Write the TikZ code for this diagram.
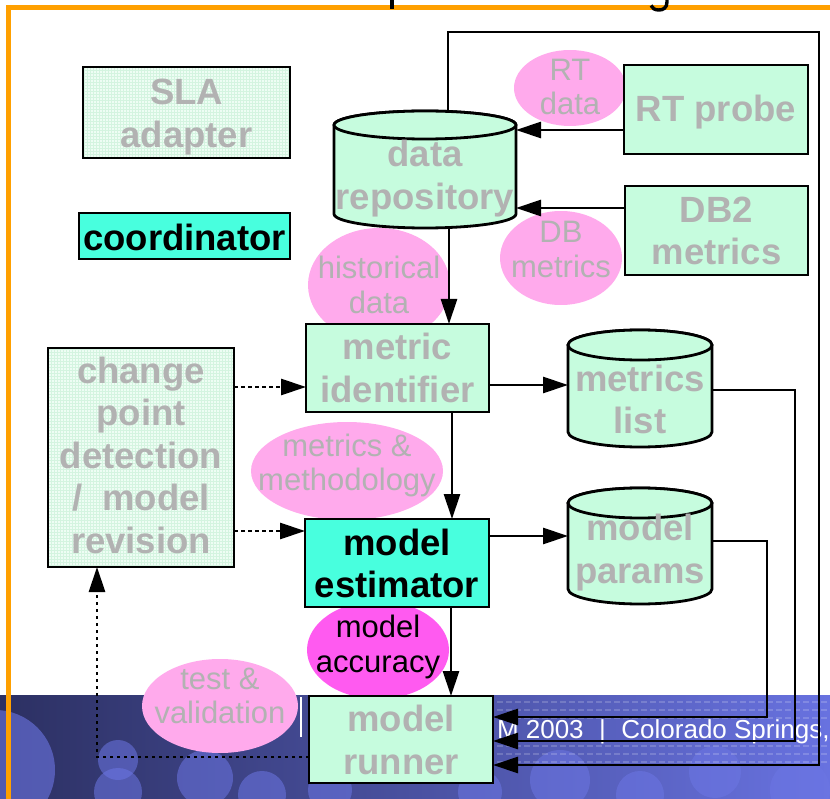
\documentclass[tikz,border=0pt]{standalone}
\usepackage{fontspec}
\setmainfont{Liberation Sans}
\usetikzlibrary{arrows.meta,shapes.geometric,patterns}

\definecolor{mint}{RGB}{198,252,222}
\definecolor{palemint}{RGB}{238,253,244}
\definecolor{gridmint}{RGB}{212,244,224}
\definecolor{aqua}{RGB}{72,255,222}
\definecolor{pinkbub}{RGB}{255,170,236}
\definecolor{magbub}{RGB}{255,90,240}
\definecolor{txtgray}{RGB}{178,178,178}
\definecolor{frameorange}{RGB}{255,160,0}
\definecolor{navy}{RGB}{44,48,98}
\definecolor{bandblue}{RGB}{104,114,224}
\definecolor{blobblue}{RGB}{108,118,228}

% cylinder drawn over an invisible rectangle node: #1 node, #2 x radius, #3 y radius
\newcommand\drawcyl[3]{%
  \filldraw[cylline] ([yshift=-#3]#1.north west) -- ([yshift=#3]#1.south west)
    arc[start angle=180,end angle=360,x radius=#2,y radius=#3]
    -- ([yshift=-#3]#1.north east)
    arc[start angle=0,end angle=180,x radius=#2,y radius=#3] -- cycle;
  \filldraw[cylline] ([yshift=-#3]#1.north) ellipse[x radius=#2,y radius=#3];
}

\begin{document}
\begin{tikzpicture}[x=1pt,y=-1pt,
  every node/.style={inner sep=0pt,outer sep=0pt},
  box/.style={rectangle,draw=black,line width=2.8pt,fill=mint},
  hotbox/.style={box,fill=aqua},
  gridbox/.style={rectangle,draw=black,line width=2.8pt,
    preaction={fill=palemint},pattern=grid,pattern color=gridmint},
  cylnode/.style={rectangle},
  cylline/.style={draw=black,line width=2.8pt,fill=mint},
  bubble/.style={ellipse,fill=pinkbub},
  hotbubble/.style={ellipse,fill=magbub},
  boxtext/.style={font=\fontsize{36.5}{42.5}\selectfont\bfseries,text=txtgray,align=center},
  hottext/.style={boxtext,text=black},
  bubtext/.style={font=\fontsize{31}{34.5}\selectfont,text=txtgray,align=center},
  arr/.style={-{Triangle[length=25pt,width=16pt]},line width=2.8pt},
  dotarr/.style={arr,dash pattern=on 3.5pt off 3.5pt},
]
\useasboundingbox (0,0) rectangle (830,799);
\clip (0,0) rectangle (830,799);

% ---- footer band ----
\fill[left color=navy,right color=bandblue] (0,695) rectangle (830,799);
\fill[blobblue,opacity=0.6] (-5,770) circle[radius=60pt];
\begin{scope}[blobblue,opacity=0.55]
  \fill (118,760) circle[radius=20pt];
  \fill (118,792) circle[radius=24pt];
  \fill (205,778) circle[radius=28pt];
  \fill (262,795) circle[radius=24pt];
  \fill (330,790) circle[radius=22pt];
  \fill (480,792) circle[radius=22pt];
  \fill (560,780) circle[radius=30pt];
  \fill (640,795) circle[radius=24pt];
  \fill (715,772) circle[radius=26pt];
  \fill (800,790) circle[radius=30pt];
\end{scope}
\foreach \yy in {702,710,718,746,754,762}
  \draw[white,opacity=0.18,line width=1.2pt,dash pattern=on 6pt off 3pt] (470,\yy) -- (830,\yy);
\draw[white,line width=2pt] (301,697) -- (301,737);
\node[anchor=base west,font=\fontsize{26}{30}\selectfont,text=white] (foot) at (497,738)
  {M 2003\hspace{15.5pt}|\hspace{15.5pt}Colorado Springs,};

% ---- slide frame with the tails of the heading above it ----
\draw[frameorange,line width=5pt] (6,7.5) -- (830,7.5);
\draw[frameorange,line width=5pt] (8.5,5) -- (8.5,799);
\draw[line width=3.6pt] (392,-2) -- (392,9.5);
\draw[line width=3.4pt] (667,-2) -- (667,2) .. controls (667,8) and (663,10) .. (659,10)
  .. controls (655,10) and (652,8.5) .. (651,5.5);

% ---- bubbles ----
\node[bubble,minimum width=112pt,minimum height=76pt] (rtdata) at (570,88) {};
\node[bubtext] (rtdata-t) at (570,87.2) {RT\\data};
\node[bubble,minimum width=122pt,minimum height=94pt] (dbmet) at (561,258) {};
\node[bubtext] (dbmet-t) at (561,249.6) {DB\\metrics};
\node[bubble,minimum width=142pt,minimum height=114pt] (hist) at (379,285) {};
\node[bubtext] (hist-t) at (379,284.9) {historical\\data};
\node[bubble,minimum width=192pt,minimum height=98pt] (methb) at (347,471) {};
\node[bubtext] (methb-t) at (347,465.3) {metrics \&\\methodology};
\node[hotbubble,minimum width=142pt,minimum height=98pt] (accb) at (378,650) {};
\node[bubtext,text=black] (accb-t) at (378,647) {model\\accuracy};
\node[bubble,minimum width=156pt,minimum height=94pt] (testb) at (220,706) {};
\node[bubtext] (testb-t) at (220,695.7) {test \&\\validation};

% ---- boxes ----
\node[gridbox,minimum width=207pt,minimum height=91pt] (sla) at (186.5,112.5) {};
\node[boxtext] (sla-t) at (186.5,116.8) {SLA\\adapter};
\node[hotbox,minimum width=211pt,minimum height=46pt] (coord) at (184.5,236) {};
\node[hottext] (coord-t) at (184.5,237) {coordinator};
\node[box,minimum width=184pt,minimum height=89pt] (rtprobe) at (716,109.5) {};
\node[boxtext] (rtprobe-t) at (716,111.8) {RT probe};
\node[box,minimum width=183pt,minimum height=89pt] (db2) at (716.5,230.5) {};
\node[boxtext] (db2-t) at (716.5,230.7) {DB2\\metrics};
\node[box,minimum width=183pt,minimum height=88pt] (metid) at (397.5,368) {};
\node[boxtext] (metid-t) at (397.5,368) {metric\\identifier};
\node[hotbox,minimum width=184pt,minimum height=88pt] (modest) at (397,563) {};
\node[hottext] (modest-t) at (397,563.3) {model\\estimator};
\node[box,minimum width=184pt,minimum height=87pt] (runner) at (401,739.5) {};
\node[boxtext] (runner-t) at (401,740) {model\\runner};
\node[gridbox,minimum width=186pt,minimum height=219pt] (cpd) at (141,457.5) {};
\node[boxtext] (cpd-t) at (141,455.3) {change\\point\\detection\\/~~model\\revision};

% ---- stores ----
\node[cylnode,minimum width=182pt,minimum height=117pt] (repo) at (425,169.5) {};
\drawcyl{repo}{91pt}{14pt}
\node[boxtext] (repo-t) at (425,178.8) {data\\repository};
\node[cylnode,minimum width=144pt,minimum height=117pt] (mlist) at (640,388.5) {};
\drawcyl{mlist}{72pt}{15pt}
\node[boxtext] (mlist-t) at (640,399.7) {metrics\\list};
\node[cylnode,minimum width=144pt,minimum height=116pt] (mparams) at (640,546) {};
\drawcyl{mparams}{72pt}{15pt}
\node[boxtext] (mparams-t) at (640,552.5) {model\\params};

% ---- connectors ----
\draw[arr] (rtprobe.west |- 0,130) -- (repo.east |- 0,130);
\draw[arr] (db2.west |- 0,208) -- (repo.east |- 0,208);
\draw[arr] (repo.south -| 449,0) -- (metid.north -| 449,0);
\draw[arr] (metid.south -| 452,0) -- (modest.north -| 452,0);
\draw[arr] (modest.south -| 451,0) -- (runner.north -| 451,0);
\draw[arr] (metid.east |- 0,385) -- (mlist.west |- 0,385);
\draw[arr] (modest.east |- 0,536) -- (mparams.west |- 0,536);
\draw[arr] (mparams.east |- 0,541) -| (767,717) -- (runner.east |- 0,717);
\draw[arr] (mlist.east |- 0,390) -| (795,741) -- (runner.east |- 0,741);
\draw[arr] (repo.north -| 448,0) |- (819,32) |- (runner.east |- 0,765);
\draw[dotarr] (cpd.east |- 0,387) -- (metid.west |- 0,387);
\draw[dotarr] (cpd.east |- 0,531) -- (modest.west |- 0,531);
\draw[dotarr] (runner.west |- 0,757) -| (cpd.south -| 97,0);
\end{tikzpicture}
\end{document}
